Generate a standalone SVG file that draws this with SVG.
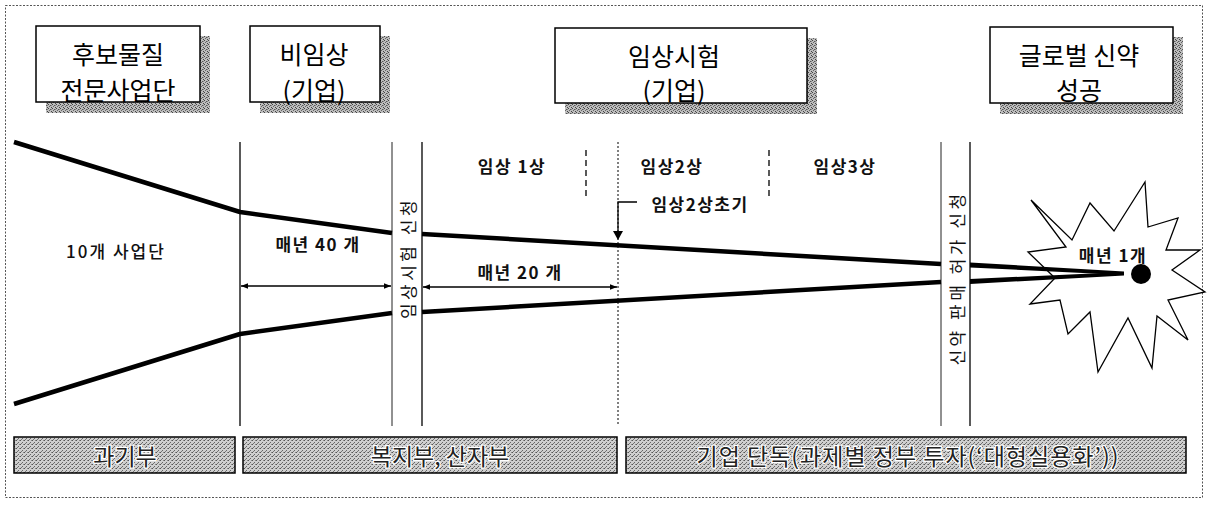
<svg xmlns="http://www.w3.org/2000/svg" width="1208" height="507" viewBox="0 0 1208 507">
<defs>
<pattern id="ht" width="4" height="4" patternUnits="userSpaceOnUse">
<rect width="4" height="4" fill="#bdbdbd"/>
<rect x="0" y="0" width="1" height="1" fill="#444"/>
<rect x="2" y="1" width="1" height="1" fill="#555"/>
<rect x="1" y="2" width="1" height="1" fill="#666"/>
<rect x="3" y="3" width="1" height="1" fill="#444"/>
<rect x="3" y="1" width="1" height="1" fill="#888"/>
</pattern>
<pattern id="ht2" width="4" height="4" patternUnits="userSpaceOnUse">
<rect width="4" height="4" fill="#cfcfcf"/>
<rect x="0" y="0" width="1" height="1" fill="#555"/>
<rect x="2" y="2" width="1" height="1" fill="#666"/>
<rect x="3" y="0" width="1" height="1" fill="#888"/>
<rect x="1" y="3" width="1" height="1" fill="#777"/>
</pattern>
<marker id="ah" viewBox="0 0 10 10" refX="10" refY="5" markerWidth="7" markerHeight="7" orient="auto-start-reverse" markerUnits="userSpaceOnUse">
<path d="M0,1 L10,5 L0,9 Z" fill="#000"/>
</marker>
</defs>
<style>
.hdr{font-family:"Noto Sans CJK KR","Noto Sans",sans-serif;font-size:25px;fill:#000;text-anchor:middle;dominant-baseline:central}
.lbl{font-family:"Noto Sans CJK KR","Noto Sans",sans-serif;font-size:17px;fill:#111;text-anchor:middle;dominant-baseline:central;font-weight:bold;letter-spacing:1.5px}
.reg{font-family:"Noto Sans CJK KR","Noto Sans",sans-serif;font-size:17px;fill:#111;text-anchor:middle;dominant-baseline:central;font-weight:500;letter-spacing:2px}
.vt{font-family:"Noto Sans CJK KR","Noto Sans",sans-serif;font-size:17px;fill:#111;text-anchor:middle;dominant-baseline:central;letter-spacing:3.5px}
.bot{font-family:"Noto Sans CJK KR","Noto Sans",sans-serif;font-size:23px;fill:#222;text-anchor:middle;dominant-baseline:central;stroke:#fff;stroke-width:2.5px;paint-order:stroke}
.box{fill:#fff;stroke:#000;stroke-width:1.5}
.shadow{fill:url(#ht)}
.bbox{fill:url(#ht2);stroke:#000;stroke-width:1.5}
.vline{stroke:#000;stroke-width:1.3;fill:none}
.thin{stroke:#222;stroke-width:1;fill:none}
.dash{stroke:#000;stroke-width:1.3;stroke-dasharray:6 4;fill:none}
.dot{stroke:#000;stroke-width:1;stroke-dasharray:2 2;fill:none}
.thick{stroke:#000;stroke-width:4.5;fill:none;stroke-linejoin:round}
.arr{stroke:#000;stroke-width:1.3;fill:none;marker-start:url(#ah);marker-end:url(#ah)}
</style>

<rect x="5.5" y="5.5" width="1197" height="492" fill="none" stroke="#555" stroke-width="1" stroke-dasharray="2 1.5"/>

<!-- header nodes -->
<g id="hdr-candidate">
<rect class="shadow" x="46" y="36" width="164" height="77"/>
<rect class="box" x="36" y="26" width="164" height="76"/>
<text class="hdr" x="118" y="53">후보물질</text>
<text class="hdr" x="118" y="89">전문사업단</text>
</g>
<g id="hdr-preclinical">
<rect class="shadow" x="260" y="36" width="130" height="77"/>
<rect class="box" x="250" y="26" width="130" height="76"/>
<text class="hdr" x="314" y="53">비임상</text>
<text class="hdr" x="314" y="89">(기업)</text>
</g>
<g id="hdr-clinical">
<rect class="shadow" x="565" y="38" width="252" height="76"/>
<rect class="box" x="555" y="28" width="252" height="75"/>
<text class="hdr" x="674" y="55">임상시험</text>
<text class="hdr" x="674" y="89">(기업)</text>
</g>
<g id="hdr-global">
<rect class="shadow" x="1000" y="37" width="183" height="77"/>
<rect class="box" x="990" y="27" width="183" height="76"/>
<text class="hdr" x="1079" y="54">글로벌 신약</text>
<text class="hdr" x="1079" y="89">성공</text>
</g>

<!-- starburst node -->
<g id="success-star">
<polygon points="1031,200 1072,240 1090,203 1114,231 1145,182 1148,227 1178,218 1166,250 1200,250 1172,270 1205,292 1168,300 1188,340 1157,316 1152,368 1128,318 1098,372 1090,312 1068,334 1060,300 1030,304 1055,278 1028,252 1066,247" fill="#fff" stroke="#000" stroke-width="1.3" stroke-linejoin="miter"/>
<text class="lbl" x="1113" y="254">매년 1개</text>
<circle cx="1141" cy="274" r="10" fill="#000"/>
</g>

<!-- stage boundaries and funnel -->
<g id="connectors">
<line class="vline" x1="240" y1="142" x2="240" y2="426"/>
<line class="thin" x1="392" y1="142" x2="392" y2="426"/>
<line class="vline" x1="422" y1="142" x2="422" y2="426"/>
<line class="dot" x1="618" y1="142" x2="618" y2="426"/>
<line class="dash" x1="586" y1="150" x2="586" y2="197"/>
<line class="dash" x1="769" y1="150" x2="769" y2="197"/>
<line class="thin" x1="941" y1="142" x2="941" y2="426"/>
<line class="vline" x1="970" y1="142" x2="970" y2="426"/>

<polyline class="thick" points="14,142 240,212 392,233"/>
<polyline class="thick" points="14,404 240,334 392,313"/>
<line class="thick" x1="422" y1="234" x2="941" y2="264"/>
<line class="thick" x1="422" y1="312" x2="941" y2="282"/>
<polygon points="970,262.5 1124,271.5 1124,275 970,267.5" fill="#000"/>
<polygon points="970,279 1124,272 1124,275.5 970,284" fill="#000"/>

<line class="arr" x1="241" y1="286" x2="391" y2="286"/>
<line class="arr" x1="423" y1="287" x2="617" y2="287"/>
<polyline fill="none" stroke="#000" stroke-width="1.3" points="637,202 618,202 618,232"/>
<path d="M613,231 L623,231 L618,240 Z" fill="#000"/>
</g>

<!-- labels -->
<g id="labels">
<text class="reg" x="116" y="250">10개 사업단</text>
<text class="lbl" x="318" y="243">매년 40 개</text>
<text class="lbl" x="520" y="271">매년 20 개</text>
<text class="lbl" x="512" y="165">임상 1상</text>
<text class="lbl" x="672" y="165">임상2상</text>
<text class="lbl" x="845" y="165">임상3상</text>
<text class="lbl" x="700" y="203">임상2상초기</text>
<text class="vt" transform="translate(407,258) rotate(-90)">임상시험 신청</text>
<text class="vt" transform="translate(956,278) rotate(-90)">신약 판매 허가 신청</text>
</g>

<!-- bottom funding nodes -->
<g id="fund-msit">
<rect class="bbox" x="14" y="437" width="221" height="36"/>
<text class="bot" x="125" y="455">과기부</text>
</g>
<g id="fund-mohw-mke">
<rect class="bbox" x="243" y="437" width="374" height="36"/>
<text class="bot" x="440" y="455">복지부, 산자부</text>
</g>
<g id="fund-industry">
<rect class="bbox" x="626" y="437" width="560" height="36"/>
<text class="bot" x="908" y="455" letter-spacing="1">기업 단독(과제별 정부 투자(‘대형실용화’))</text>
</g>
</svg>
